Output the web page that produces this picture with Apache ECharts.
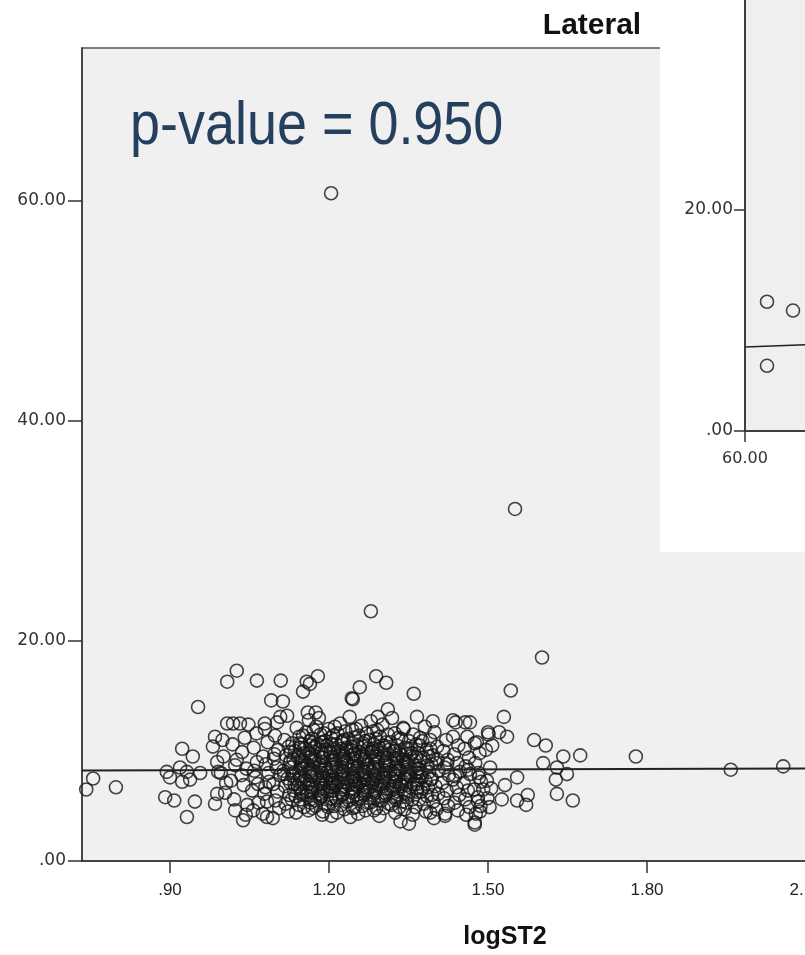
<!DOCTYPE html>
<html>
<head>
<meta charset="utf-8">
<script src="https://cdn.jsdelivr.net/npm/echarts@6/dist/echarts.min.js"></script>
<style>
html,body{margin:0;padding:0;background:#fff;}
#c{width:805px;height:955px;}
</style>
</head>
<body>
<div id="c"></div>
<script>
// ---------- data ----------
const chartTitle = 'Lateral';
const xAxisName = 'logST2';
const pValueText = 'p-value = 0.950';
const xTicks = [0.9, 1.2, 1.5, 1.8, 2.1];
const yTicks = [0, 20, 40, 60];
const insetYTicks = [0, 20, 40];
const insetXTicks = [60];

// sparse / outlying points (logST2, value)
const outlierPoints = [
  [1.204,60.7],[1.551,32.0],[1.279,22.7],[1.602,18.5],[1.543,15.5],[1.530,13.1],
  [1.500,11.7],[1.521,11.7],[1.536,11.3],[1.508,10.5],[1.587,11.0],[1.609,10.5],
  [1.674,9.6],[1.642,9.5],[1.779,9.5],[1.604,8.9],[1.630,8.5],[1.649,7.9],
  [1.555,7.6],[1.532,6.9],[1.628,7.4],[1.630,6.1],[1.660,5.5],[1.575,6.0],
  [1.572,5.1],[1.555,5.5],[1.526,5.6],[1.491,6.5],[1.481,5.4],[1.485,4.5],
  [1.475,3.5],[1.466,12.6],[1.475,10.7],[1.958,8.3],[2.057,8.6],
  [0.755,7.5],[0.742,6.5],[0.798,6.7],[0.894,8.1],[0.900,7.6],[0.923,10.2],
  [0.943,9.5],[0.919,8.5],[0.932,8.1],[0.957,8.0],[0.923,7.2],[0.938,7.4],
  [0.891,5.8],[0.908,5.5],[0.947,5.4],[0.932,4.0],[0.953,14.0],[1.008,16.3],
  [1.026,17.3],[1.008,12.5],[0.985,11.3],[0.981,10.4],[0.989,9.0],[0.991,8.1],
  [0.985,5.2],[0.989,6.1],[1.023,4.6],
  [1.064,16.4],[1.109,16.4],[1.158,16.3],[1.164,16.1],[1.179,16.8],[1.151,15.4],
  [1.091,14.6],[1.113,14.5],[1.243,14.8],[1.160,13.5],[1.175,13.5],[1.032,12.5],
  [1.019,12.5],[1.108,13.1],[1.079,12.5],
  [1.289,16.8],[1.308,16.2],[1.258,15.8],[1.245,14.7],[1.360,15.2],[1.311,13.8],
  [1.292,13.1],[1.366,13.1],[1.396,12.7],[1.434,12.8],[1.457,12.6],[1.340,12.1],
  [1.434,11.3],[1.391,11.0],[1.372,11.2],[1.351,3.4],[1.475,3.3],[1.419,4.1],
  [1.391,4.4],[1.038,3.7],[1.083,4.0]
];

// central cluster
const clusterPoints = [
  [1.001,9.5],[0.996,8.0],[1.004,6.2],[0.999,11.0],[1.006,7.1],
  [1.018,10.6],[1.023,8.7],[1.015,7.3],[1.021,5.6],[1.026,9.2],
  [1.041,11.2],[1.036,9.9],[1.044,8.4],[1.039,6.9],[1.046,5.1],[1.043,4.2],[1.035,7.8],[1.048,12.4],
  [1.058,10.3],[1.064,9.0],[1.061,7.6],[1.055,6.4],[1.067,5.3],[1.059,8.2],[1.063,11.6],[1.057,4.6],[1.066,7.0],
  [1.079,12.0],[1.084,10.8],[1.076,9.5],[1.081,8.8],[1.087,7.2],[1.078,6.1],[1.083,5.4],[1.075,4.3],[1.086,8.0],[1.080,6.7],
  [1.098,11.4],[1.104,10.1],[1.096,9.3],[1.101,8.5],[1.107,7.8],[1.095,7.0],[1.103,6.3],[1.099,5.5],[1.106,4.8],[1.094,3.9],[1.102,12.6],[1.097,9.7],
  [1.121,13.2],[1.116,11.0],[1.124,10.4],[1.119,9.6],[1.126,8.9],[1.114,8.2],[1.122,7.5],[1.117,6.8],[1.125,6.0],[1.118,5.2],[1.123,4.5],[1.115,7.9],[1.127,9.1],
  [1.139,12.1],[1.144,11.3],[1.136,10.0],[1.142,9.4],[1.147,8.7],[1.134,8.0],[1.141,7.3],[1.146,6.6],[1.137,5.9],[1.143,5.1],[1.138,4.4],[1.145,10.7],[1.135,7.0],[1.148,8.4],
  [1.162,12.8],[1.157,11.7],[1.164,10.9],[1.155,10.2],[1.166,9.5],[1.159,8.8],[1.163,8.1],[1.156,7.4],[1.167,6.7],[1.158,6.0],[1.165,5.3],[1.161,4.6],[1.154,9.0],[1.168,7.7],[1.160,6.3],
  [1.181,13.0],[1.176,12.2],[1.184,11.5],[1.178,10.6],[1.186,9.9],[1.174,9.2],[1.182,8.5],[1.177,7.8],[1.185,7.1],[1.179,6.4],[1.183,5.7],[1.175,5.0],[1.187,4.2],[1.180,8.9],[1.188,7.5],[1.173,10.3],[1.184,6.1],
  [1.199,12.0],[1.204,11.2],[1.196,10.5],[1.202,9.8],[1.207,9.1],[1.194,8.4],[1.201,7.7],[1.206,7.0],[1.197,6.3],[1.203,5.6],[1.198,4.9],[1.205,4.1],[1.195,8.0],[1.208,9.4],[1.200,6.7],[1.193,10.9],[1.206,7.3],
  [1.221,12.5],[1.216,11.6],[1.224,10.8],[1.218,10.0],[1.226,9.3],[1.214,8.6],[1.222,7.9],[1.217,7.2],[1.225,6.5],[1.219,5.8],[1.223,5.1],[1.215,4.4],[1.227,8.2],[1.220,9.6],[1.213,6.9],[1.228,7.5],
  [1.239,13.1],[1.244,11.9],[1.236,11.1],[1.242,10.4],[1.247,9.7],[1.234,9.0],[1.241,8.3],[1.246,7.6],[1.237,6.9],[1.243,6.2],[1.238,5.5],[1.245,4.8],[1.240,4.0],[1.235,8.7],[1.248,7.3],[1.233,10.1],[1.244,6.6],
  [1.261,12.3],[1.256,11.4],[1.264,10.7],[1.258,9.9],[1.266,9.2],[1.254,8.5],[1.262,7.8],[1.257,7.1],[1.265,6.4],[1.259,5.7],[1.263,5.0],[1.255,4.3],[1.267,8.1],[1.260,9.5],[1.253,6.8],[1.268,7.4],
  [1.279,12.7],[1.284,11.8],[1.276,11.0],[1.282,10.2],[1.287,9.5],[1.274,8.8],[1.281,8.1],[1.286,7.4],[1.277,6.7],[1.283,6.0],[1.278,5.3],[1.285,4.6],[1.275,8.4],[1.288,7.7],[1.280,9.9],[1.273,6.4],
  [1.301,12.4],[1.296,11.3],[1.304,10.5],[1.298,9.8],[1.306,9.0],[1.294,8.3],[1.302,7.6],[1.297,6.9],[1.305,6.2],[1.299,5.5],[1.303,4.8],[1.295,4.1],[1.307,8.7],[1.300,7.2],[1.293,10.1],
  [1.319,13.0],[1.324,11.6],[1.316,10.8],[1.322,10.0],[1.327,9.3],[1.314,8.6],[1.321,7.9],[1.326,7.2],[1.317,6.5],[1.323,5.8],[1.318,5.1],[1.325,4.4],[1.315,8.1],[1.328,9.6],[1.320,6.8],
  [1.341,12.0],[1.336,11.1],[1.344,10.3],[1.338,9.6],[1.346,8.9],[1.334,8.2],[1.342,7.5],[1.337,6.8],[1.345,6.1],[1.339,5.4],[1.343,4.7],[1.335,3.6],[1.347,7.9],[1.340,9.2],
  [1.359,11.5],[1.364,10.6],[1.356,9.8],[1.362,9.1],[1.367,8.4],[1.354,7.7],[1.361,7.0],[1.366,6.3],[1.357,5.6],[1.363,4.9],[1.358,4.2],[1.365,8.0],[1.355,10.2],
  [1.381,12.2],[1.376,10.9],[1.384,10.1],[1.378,9.4],[1.386,8.7],[1.374,8.0],[1.382,7.3],[1.377,6.6],[1.385,5.9],[1.379,5.2],[1.383,4.5],[1.375,7.6],
  [1.399,11.7],[1.404,10.4],[1.396,9.6],[1.402,8.9],[1.407,8.2],[1.394,7.5],[1.401,6.8],[1.406,6.1],[1.397,5.4],[1.403,4.7],[1.398,3.9],[1.405,9.2],
  [1.421,11.0],[1.416,10.0],[1.424,9.2],[1.418,8.5],[1.426,7.8],[1.414,7.1],[1.422,6.4],[1.417,5.7],[1.425,5.0],[1.419,4.3],[1.423,8.8],
  [1.439,12.6],[1.444,10.5],[1.436,9.7],[1.442,8.9],[1.447,8.1],[1.434,7.4],[1.441,6.7],[1.446,6.0],[1.437,5.3],[1.443,4.6],[1.438,7.7],
  [1.461,11.3],[1.456,10.2],[1.464,9.4],[1.458,8.6],[1.466,7.9],[1.454,7.1],[1.462,6.4],[1.457,5.6],[1.465,4.9],[1.459,4.2],[1.463,8.3],
  [1.479,10.8],[1.484,9.8],[1.476,8.9],[1.482,8.0],[1.487,7.2],[1.474,6.5],[1.481,5.8],[1.486,5.0],[1.477,4.3],[1.483,7.6],
  [1.501,11.5],[1.496,10.1],[1.504,8.5],[1.498,7.3],[1.506,6.6],[1.499,5.7],[1.503,4.9]
];

// densest core of the cluster
const corePoints = [
  [1.131,10.7],[1.128,9.9],[1.133,9.2],[1.129,8.5],[1.132,7.8],[1.127,7.1],[1.134,6.4],[1.130,5.6],
  [1.151,11.4],[1.148,10.6],[1.153,9.8],[1.149,9.1],[1.152,8.4],[1.147,7.7],[1.154,7.0],[1.150,6.3],[1.146,5.6],[1.153,4.9],
  [1.171,11.9],[1.168,11.1],[1.173,10.4],[1.169,9.7],[1.172,9.0],[1.167,8.3],[1.174,7.6],[1.170,6.9],[1.166,6.2],[1.173,5.5],[1.169,4.8],
  [1.191,11.6],[1.188,10.8],[1.193,10.1],[1.189,9.4],[1.192,8.7],[1.187,8.0],[1.194,7.3],[1.190,6.6],[1.186,5.9],[1.193,5.2],[1.189,4.5],
  [1.211,12.2],[1.208,11.4],[1.213,10.6],[1.209,9.9],[1.212,9.2],[1.207,8.5],[1.214,7.8],[1.210,7.1],[1.206,6.4],[1.213,5.7],[1.209,5.0],
  [1.231,11.8],[1.228,11.0],[1.233,10.3],[1.229,9.6],[1.232,8.9],[1.227,8.2],[1.234,7.5],[1.230,6.8],[1.226,6.1],[1.233,5.4],[1.229,4.7],
  [1.251,12.0],[1.248,11.2],[1.253,10.5],[1.249,9.8],[1.252,9.1],[1.247,8.4],[1.254,7.7],[1.250,7.0],[1.246,6.3],[1.253,5.6],[1.249,4.9],
  [1.271,11.6],[1.268,10.9],[1.273,10.2],[1.269,9.5],[1.272,8.8],[1.267,8.1],[1.274,7.4],[1.270,6.7],[1.266,6.0],[1.273,5.3],[1.269,4.6],
  [1.291,11.9],[1.288,11.1],[1.293,10.4],[1.289,9.7],[1.292,9.0],[1.287,8.3],[1.294,7.6],[1.290,6.9],[1.286,6.2],[1.293,5.5],[1.289,4.8],
  [1.311,11.5],[1.308,10.8],[1.313,10.1],[1.309,9.4],[1.312,8.7],[1.307,8.0],[1.314,7.3],[1.310,6.6],[1.306,5.9],[1.313,5.2],
  [1.331,11.2],[1.328,10.5],[1.333,9.8],[1.329,9.1],[1.332,8.4],[1.327,7.7],[1.334,7.0],[1.330,6.3],[1.326,5.6],[1.333,4.9],
  [1.351,10.9],[1.348,10.2],[1.353,9.5],[1.349,8.8],[1.352,8.1],[1.347,7.4],[1.354,6.7],[1.350,6.0],[1.346,5.3],
  [1.371,10.5],[1.368,9.8],[1.373,9.1],[1.369,8.4],[1.372,7.7],[1.367,7.0],[1.374,6.3],[1.370,5.6],
  [1.391,10.2],[1.388,9.5],[1.393,8.8],[1.389,8.1],[1.392,7.4],[1.387,6.7],[1.394,6.0]
];

// innermost, most crowded part of the core
const innerCorePoints = [
  [1.145,10.3],[1.143,9.6],[1.147,8.9],[1.144,8.2],[1.146,7.5],[1.142,6.8],[1.148,6.1],
  [1.165,10.5],[1.163,9.8],[1.167,9.1],[1.164,8.4],[1.166,7.7],[1.162,7.0],[1.168,6.3],[1.165,5.6],
  [1.185,10.8],[1.183,10.1],[1.187,9.4],[1.184,8.7],[1.186,8.0],[1.182,7.3],[1.188,6.6],[1.185,5.9],
  [1.205,10.6],[1.203,9.9],[1.207,9.2],[1.204,8.5],[1.206,7.8],[1.202,7.1],[1.208,6.4],[1.205,5.7],
  [1.225,10.9],[1.223,10.2],[1.227,9.5],[1.224,8.8],[1.226,8.1],[1.222,7.4],[1.228,6.7],[1.225,6.0],
  [1.245,10.7],[1.243,10.0],[1.247,9.3],[1.244,8.6],[1.246,7.9],[1.242,7.2],[1.248,6.5],[1.245,5.8],
  [1.265,10.4],[1.263,9.7],[1.267,9.0],[1.264,8.3],[1.266,7.6],[1.262,6.9],[1.268,6.2],
  [1.285,10.6],[1.283,9.9],[1.287,9.2],[1.284,8.5],[1.286,7.8],[1.282,7.1],[1.288,6.4],[1.285,5.7],
  [1.305,10.3],[1.303,9.6],[1.307,8.9],[1.304,8.2],[1.306,7.5],[1.302,6.8],[1.308,6.1],
  [1.325,10.0],[1.323,9.3],[1.327,8.6],[1.324,7.9],[1.326,7.2],[1.322,6.5],[1.328,5.8],
  [1.345,9.7],[1.343,9.0],[1.347,8.3],[1.344,7.6],[1.346,6.9],[1.342,6.2],
  [1.365,9.4],[1.363,8.7],[1.367,8.0],[1.364,7.3],[1.366,6.6]
];

// fit line end points (logST2, value)
const fitLine = [[0.734, 8.23], [2.40, 8.45]];

// inset panel points and fit line
const insetPoints = [[62.2, 11.7], [64.8, 10.9], [62.2, 5.9]];
const insetFitLine = [[60, 7.6], [100, 8.9]];

// ---------- chart ----------
const fmt = v => { const s = Number(v).toFixed(2); return s.replace(/^0\./, '.'); };
const sans = "'Liberation Sans', Arial, sans-serif";
const wide = "'DejaVu Sans', Verdana, sans-serif";
const axisCol = '#333';
const sym = {
  symbol: 'circle', symbolSize: 13,
  itemStyle: { color: 'rgba(0,0,0,0)', borderColor: '#161616', borderWidth: 1.6 }
};

const chart = echarts.init(document.getElementById('c'), null, { renderer: 'canvas' });
chart.setOption({
  animation: false,
  backgroundColor: '#ffffff',
  grid: [
    { left: 82, top: 48, width: 883, height: 813, show: true, backgroundColor: '#f0f0f0',
      borderColor: '#555', borderWidth: 1.5, z: 0, outerBoundsMode: 'none', containLabel: false },
    { left: 745, top: -232, width: 400, height: 663, show: true, backgroundColor: '#efefef',
      borderColor: '#333', borderWidth: 1.5, z: 6, outerBoundsMode: 'none', containLabel: false }
  ],
  xAxis: [
    { type: 'value', gridIndex: 0, min: 0.734, max: 2.40,
      axisLine: { show: true, onZero: false, lineStyle: { color: axisCol, width: 1.5 } },
      axisTick: { show: true, length: 12, customValues: xTicks, lineStyle: { color: axisCol, width: 1.5 } },
      axisLabel: { customValues: xTicks, formatter: fmt, margin: 21, fontFamily: sans, fontSize: 17, color: '#222' },
      splitLine: { show: false } },
    { type: 'value', gridIndex: 1, min: 60, max: 100, z: 7,
      axisLine: { show: true, onZero: false, lineStyle: { color: axisCol, width: 1.5 } },
      axisTick: { show: true, length: 11, customValues: insetXTicks, lineStyle: { color: axisCol, width: 1.5 } },
      axisLabel: { customValues: insetXTicks, formatter: v => Number(v).toFixed(2), margin: 20, fontFamily: wide, fontSize: 16, color: '#333' },
      splitLine: { show: false } }
  ],
  yAxis: [
    { type: 'value', gridIndex: 0, min: 0, max: 73.9,
      axisLine: { show: true, onZero: false, lineStyle: { color: axisCol, width: 1.5 } },
      axisTick: { show: true, length: 14, customValues: yTicks, lineStyle: { color: axisCol, width: 1.5 } },
      axisLabel: { customValues: yTicks, formatter: fmt, margin: 16, fontFamily: wide, fontSize: 17, color: '#333' },
      splitLine: { show: false } },
    { type: 'value', gridIndex: 1, min: 0, max: 60, z: 7,
      axisLine: { show: true, onZero: false, lineStyle: { color: axisCol, width: 1.5 } },
      axisTick: { show: true, length: 11, customValues: insetYTicks, lineStyle: { color: axisCol, width: 1.5 } },
      axisLabel: { customValues: insetYTicks, formatter: fmt, margin: 12, fontFamily: wide, fontSize: 17, color: '#333' },
      splitLine: { show: false } }
  ],
  series: [
    Object.assign({ type: 'scatter', xAxisIndex: 0, yAxisIndex: 0, z: 2,
      data: clusterPoints.concat(corePoints, innerCorePoints, outlierPoints) }, sym),
    { type: 'line', xAxisIndex: 0, yAxisIndex: 0, z: 3, data: fitLine, symbol: 'none',
      lineStyle: { color: '#222', width: 2 } },
    Object.assign({ type: 'scatter', xAxisIndex: 1, yAxisIndex: 1, z: 8, data: insetPoints }, sym),
    { type: 'line', xAxisIndex: 1, yAxisIndex: 1, z: 8, data: insetFitLine, symbol: 'none',
      lineStyle: { color: '#222', width: 1.5 } }
  ],
  graphic: [
    { type: 'rect', z: 5, shape: { x: 660, y: 0, width: 145, height: 552 }, style: { fill: '#ffffff' } },
    { type: 'text', z: 10, x: 592, y: 26, style: { text: chartTitle, font: "bold 30px " + sans, fill: '#111', align: 'center', verticalAlign: 'middle' } },
    { type: 'text', z: 10, x: 505, y: 937, style: { text: xAxisName, font: "bold 25px " + sans, fill: '#111', align: 'center', verticalAlign: 'middle' } },
    { type: 'text', z: 10, x: 130, y: 127, scaleX: 0.87, style: { x: 0, y: 0, text: pValueText, font: "62px " + sans, fill: '#253f5f', align: 'left', verticalAlign: 'middle' } }
  ]
});
</script>
</body>
</html>
